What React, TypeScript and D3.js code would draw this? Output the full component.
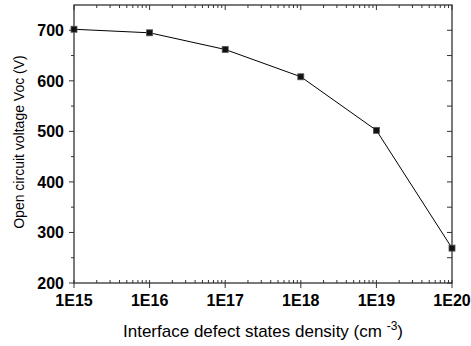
import React from 'react'
import * as d3 from 'd3'

// defect density (cm^-3) vs open circuit voltage
const densities = [1e15, 1e16, 1e17, 1e18, 1e19, 1e20]
const voc = [702, 695, 662, 608, 502, 269]
const xTickLabels = ['1E15', '1E16', '1E17', '1E18', '1E19', '1E20']
const yTicks = [200, 300, 400, 500, 600, 700]

const W = 471
const H = 346
const m = {top: 5, right: 19, bottom: 63, left: 74}

export default function App () {
  const x = d3.scaleLog().domain([1e15, 1e20]).range([m.left, W - m.right])
  const y = d3.scaleLinear().domain([200, 750]).range([H - m.bottom, m.top])
  const line = d3.line<number>().x((d, i) => x(densities[i])).y(d => y(d))

  const minorX: number[] = []
  for (let e = 15; e < 20; e++) {
    for (let k = 2; k <= 9; k++) minorX.push(k * Math.pow(10, e))
  }
  const minorY = d3.range(250, 750, 100)
  const x0 = m.left
  const x1 = W - m.right
  const y0 = H - m.bottom
  const y1 = m.top
  const axisColor = '#333'

  return (
    <svg width={W} height={H} style={{position: 'absolute', left: 0, top: 0, background: '#fff'}}
      fontFamily='Liberation Sans, Arial, sans-serif'>
      <rect x={x0} y={y1} width={x1 - x0} height={y0 - y1} fill='none' stroke={axisColor} strokeWidth={1.3} />
      {/* x axis ticks */}
      {densities.map(d => (
        <g key={'mx' + d}>
          <line x1={x(d)} x2={x(d)} y1={y0 - 3} y2={y0 + 5} stroke={axisColor} />
          <line x1={x(d)} x2={x(d)} y1={y1} y2={y1 + 5} stroke={axisColor} />
        </g>
      ))}
      {minorX.map(d => (
        <g key={'nx' + d}>
          <line x1={x(d)} x2={x(d)} y1={y0} y2={y0 - 3} stroke={axisColor} />
          <line x1={x(d)} x2={x(d)} y1={y1} y2={y1 + 3} stroke={axisColor} />
        </g>
      ))}
      {xTickLabels.map((t, i) => (
        <text key={t} x={x(densities[i])} y={y0 + 23} textAnchor='middle' fontSize={16} fontWeight='bold'>{t}</text>
      ))}
      {/* y axis ticks */}
      {yTicks.map(v => (
        <g key={'my' + v}>
          <line x1={x0 - 5} x2={x0} y1={y(v)} y2={y(v)} stroke={axisColor} />
          <line x1={x1 - 5} x2={x1} y1={y(v)} y2={y(v)} stroke={axisColor} />
          <text x={x0 - 10} y={y(v) + 6} textAnchor='end' fontSize={16} fontWeight='bold'>{v}</text>
        </g>
      ))}
      {minorY.map(v => (
        <g key={'ny' + v}>
          <line x1={x0 - 3} x2={x0} y1={y(v)} y2={y(v)} stroke={axisColor} />
          <line x1={x1 - 5} x2={x1} y1={y(v)} y2={y(v)} stroke={axisColor} />
        </g>
      ))}
      <path d={line(voc) || ''} fill='none' stroke='#000' strokeWidth={1} />
      {voc.map((v, i) => (
        <rect key={i} x={x(densities[i]) - 3} y={y(v) - 3} width={6} height={6} fill='#111' stroke='#555' strokeWidth={0.8} />
      ))}
      <text x={263} y={337} textAnchor='middle' fontSize={17}>
        Interface defect states density (cm <tspan dy={-7} fontSize={12}>-3</tspan><tspan dy={7}>)</tspan>
      </text>
      <text transform={`translate(24, 142) rotate(-90)`} textAnchor='middle' fontSize={14}>
        Open circuit voltage Voc (V)
      </text>
    </svg>
  )
}
